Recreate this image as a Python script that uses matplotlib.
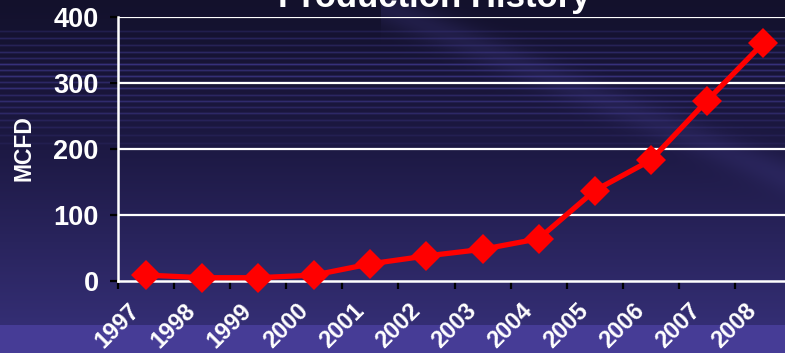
import numpy as np
import matplotlib
matplotlib.use("Agg")
import matplotlib.pyplot as plt

plt.rcParams['font.family'] = ['Liberation Sans', 'DejaVu Sans']

years = ["1997", "1998", "1999", "2000", "2001", "2002",
         "2003", "2004", "2005", "2006", "2007", "2008"]
mcfd = [9, 5, 5, 9, 26, 38, 48, 64, 137, 183, 273, 360]
y_ticks = [0, 100, 200, 300, 400]

W, H, DPI = 785, 353, 100
fig = plt.figure(figsize=(W / DPI, H / DPI), dpi=DPI)

# --- slide-style background: dark navy gradient with horizontal light streaks ---
rows = np.arange(H, dtype=float)
top = np.array([0x13, 0x11, 0x2c], float)
mid = np.array([0x1d, 0x19, 0x44], float)
low = np.array([0x34, 0x2e, 0x74], float)
band = np.array([0x46, 0x3c, 0x96], float)
col = np.zeros((H, 3))
for r in range(H):
    if r < 150:
        t = r / 150.0
        col[r] = top * (1 - t) + mid * t
    elif r < 325:
        t = (r - 150) / 175.0
        col[r] = mid * (1 - t) + low * t
    else:
        col[r] = band
# streaks across the upper part
streak_rows = [31, 38, 45, 52, 58, 64, 70, 76, 82, 88, 95, 101, 107, 113, 120, 127, 135, 143]
streak_str = [0.35, 0.5, 0.45, 0.6, 0.55, 0.9, 0.7, 0.85, 0.6, 0.8, 0.55, 0.7, 0.5, 0.6, 0.4, 0.35, 0.25, 0.2]
streak_col = np.array([0x3a, 0x34, 0x82], float)
img = np.repeat(col[:, None, :], W, axis=1)
for r0, s in zip(streak_rows, streak_str):
    for dr, w in ((-1, 0.35), (0, 1.0), (1, 0.35)):
        r = r0 + dr
        img[r] = img[r] * (1 - s * w) + streak_col * (s * w)
# faint diagonal light sweep
xx, yy = np.meshgrid(np.arange(W), rows)
d = (yy - 0.42 * (xx - 390))
sweep = np.exp(-((d - 10) / 18.0) ** 2) * ((xx > 380) & (yy < 200))
img = img * (1 - 0.25 * sweep[..., None]) + np.array([0x45, 0x3f, 0x90]) * 0.25 * sweep[..., None]
img = np.clip(img / 255.0, 0, 1)

bg = fig.add_axes([0, 0, 1, 1], zorder=-10)
bg.imshow(img, aspect='auto', extent=[0, W, H, 0], interpolation='bilinear')
bg.axis('off')

# --- chart ---
left, right = 118 / W, 791 / W
bottom, topf = 1 - 281 / H, 1 - 17 / H
ax = fig.add_axes([left, bottom, right - left, topf - bottom])
ax.patch.set_alpha(0)

x = np.arange(len(years))
ax.plot(x, mcfd, color='#ff0000', lw=3.8, marker='D', ms=15,
        markeredgewidth=0, zorder=5, clip_on=False)

ax.set_xlim(-0.5, len(years) - 0.5)
ax.set_ylim(0, 400)
ax.set_yticks(y_ticks)
ax.set_yticklabels([str(v) for v in y_ticks], fontsize=19.5, fontweight='bold', color='white')
ax.set_xticks(np.arange(-0.5, len(years) + 0.5, 1.0))
ax.set_xticklabels([])
ax.tick_params(axis='both', direction='out', length=6, width=1.6, color='black')
ax.tick_params(axis='y', pad=8)

for v in y_ticks[1:]:
    ax.axhline(v, color='white', lw=1.6, zorder=1)
for s in ('top', 'right'):
    ax.spines[s].set_visible(False)
for s in ('left', 'bottom'):
    ax.spines[s].set_color('white')
    ax.spines[s].set_linewidth(1.8)

for i, lab in enumerate(years):
    ax.annotate(lab, xy=(i, 0), xycoords=('data', 'axes fraction'),
                xytext=(-7, -19), textcoords='offset points',
                rotation=45, rotation_mode='anchor', ha='right', va='center',
                fontsize=17, fontweight='bold', color='white')

fig.text(24 / W, 1 - 148 / H, "MCFD", rotation=90, ha='center', va='center',
         fontsize=16.5, fontweight='bold', color='white')

fig.text(434 / W, 1 - 7 / H, "Production History", ha='center', va='baseline',
         fontsize=25, fontweight='bold', color='white')

fig.savefig("out.png", dpi=DPI)
